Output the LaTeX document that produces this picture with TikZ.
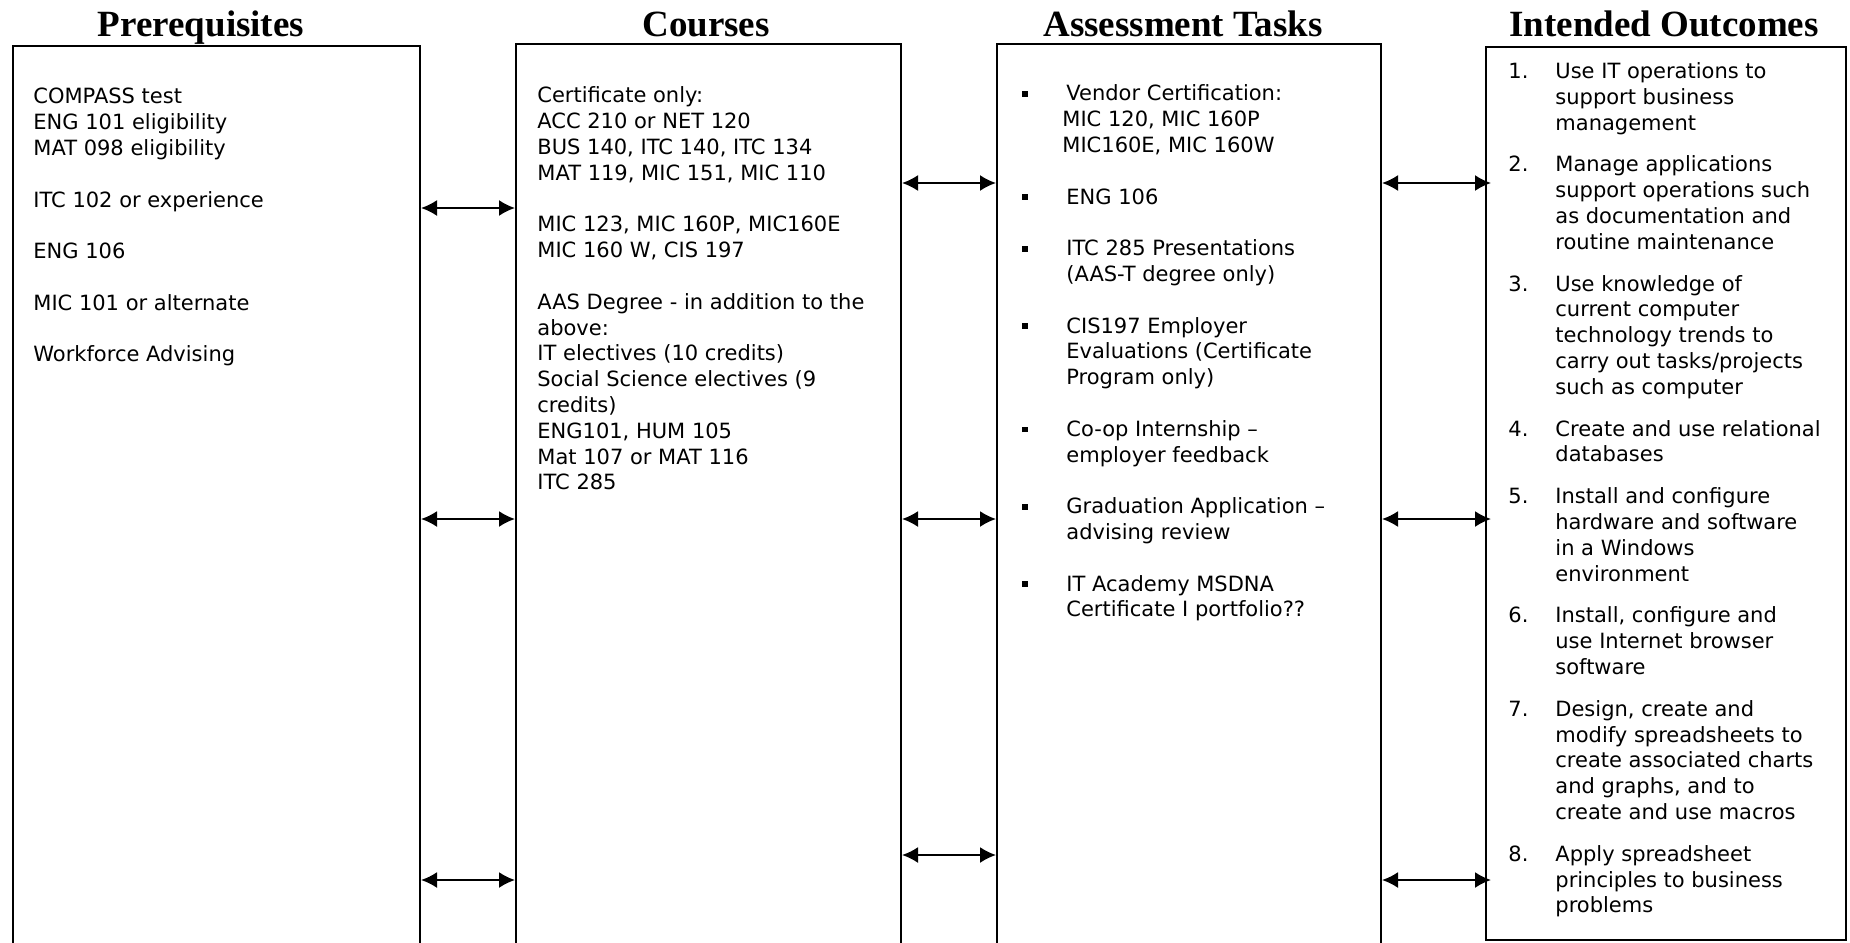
\documentclass[tikz,border=0pt]{standalone}
\usepackage{fontspec}
\setmainfont{Liberation Serif}
\newfontfamily\bodyfont{DejaVu Sans}
\usetikzlibrary{arrows.meta, positioning, fit}

\tikzset{
    box/.style={draw, line width=1pt, inner sep=0pt},
    heading/.style={font=\fontsize{18.5pt}{22pt}\selectfont\bfseries, anchor=base, inner sep=0pt},
    body/.style={font=\bodyfont\fontsize{10.5pt}{12.9pt}\selectfont, anchor=north west, inner sep=0pt},
    link/.style={{Latex[length=8pt,width=8pt]}-{Latex[length=8pt,width=8pt]}, line width=1pt}
}
\newcommand{\sqbullet}{\makebox[22pt][l]{\raisebox{2.1pt}{\rule{2.8pt}{2.8pt}}}}
\newcommand{\itemno}[1]{\makebox[23.5pt][l]{#1}}

\begin{document}
\begin{tikzpicture}[x=0.5pt,y=-0.5pt]
\useasboundingbox (0,0) rectangle (1850,942);

% Column boxes (first three run off the bottom of the page)
\node[box, fit={(13,46) (420,960)}] (pre) {};
\node[box, fit={(516,44) (901,960)}] (crs) {};
\node[box, fit={(997,44) (1381,960)}] (asm) {};
\node[box, fit={(1486,47) (1846,940)}] (out) {};

% Headings
\node[heading] (preT) at (201,36) {Prerequisites};
\node[heading] (crsT) at (706,36) {Courses};
\node[heading] (asmT) at (1183,36) {Assessment Tasks};
\node[heading] (outT) at (1664,36) {Intended Outcomes};

% Prerequisites
\node[body] (preL) at (33,85.5) {\begin{tabular}{@{}l@{}}
COMPASS test\\
ENG 101 eligibility\\
MAT 098 eligibility\\
\\
ITC 102 or experience\\
\\
ENG 106\\
\\
MIC 101 or alternate\\
\\
Workforce Advising
\end{tabular}};

% Courses
\node[body] (crsL) at (537,84.5) {\begin{tabular}{@{}l@{}}
Certificate only:\\
ACC 210 or NET 120\\
BUS 140, ITC 140, ITC 134\\
MAT 119, MIC 151, MIC 110\\
\\
MIC 123, MIC 160P, MIC160E\\
MIC 160 W, CIS 197\\
\\
AAS Degree - in addition to the\\
above:\\
IT electives (10 credits)\\
Social Science electives (9\\
credits)\\
ENG101, HUM 105\\
Mat 107 or MAT 116\\
ITC 285
\end{tabular}};

% Assessment Tasks
\node[body] (asmL) at (1022,82.5) {\begin{tabular}{@{}l@{}l@{}}
\sqbullet & Vendor Certification:\\
 & \hspace{-2pt}MIC 120, MIC 160P\\
 & \hspace{-2pt}MIC160E, MIC 160W\\
 & \\
\sqbullet & ENG 106\\
 & \\
\sqbullet & ITC 285 Presentations\\
 & (AAS-T degree only)\\
 & \\
\sqbullet & CIS197 Employer\\
 & Evaluations (Certificate\\
 & Program only)\\
 & \\
\sqbullet & Co-op Internship –\\
 & employer feedback\\
 & \\
\sqbullet & Graduation Application –\\
 & advising review\\
 & \\
\sqbullet & IT Academy MSDNA\\
 & Certificate I portfolio??
\end{tabular}};

% Intended Outcomes
\node[body] (outL) at (1508,60) {\begin{tabular}{@{}l@{}l@{}}
\itemno{1.} & Use IT operations to\\
 & support business\\
 & management\\[8pt]
\itemno{2.} & Manage applications\\
 & support operations such\\
 & as documentation and\\
 & routine maintenance\\[8pt]
\itemno{3.} & Use knowledge of\\
 & current computer\\
 & technology trends to\\
 & carry out tasks/projects\\
 & such as computer\\[8pt]
\itemno{4.} & Create and use relational\\
 & databases\\[8pt]
\itemno{5.} & Install and configure\\
 & hardware and software\\
 & in a Windows\\
 & environment\\[8pt]
\itemno{6.} & Install, configure and\\
 & use Internet browser\\
 & software\\[8pt]
\itemno{7.} & Design, create and\\
 & modify spreadsheets to\\
 & create associated charts\\
 & and graphs, and to\\
 & create and use macros\\[8pt]
\itemno{8.} & Apply spreadsheet\\
 & principles to business\\
 & problems
\end{tabular}};

% Two-way links between the columns
\foreach \a/\b/\y in {pre/crs/208, pre/crs/519, pre/crs/880,
                      crs/asm/183, crs/asm/519, crs/asm/855}
{
    \draw[link] (\a.east |- 0,\y) -- (\b.west |- 0,\y);
}
\foreach \y in {183, 519, 880}
{
    \draw[link, shorten >=-3pt] (asm.east |- 0,\y) -- (out.west |- 0,\y);
}

\end{tikzpicture}
\end{document}
